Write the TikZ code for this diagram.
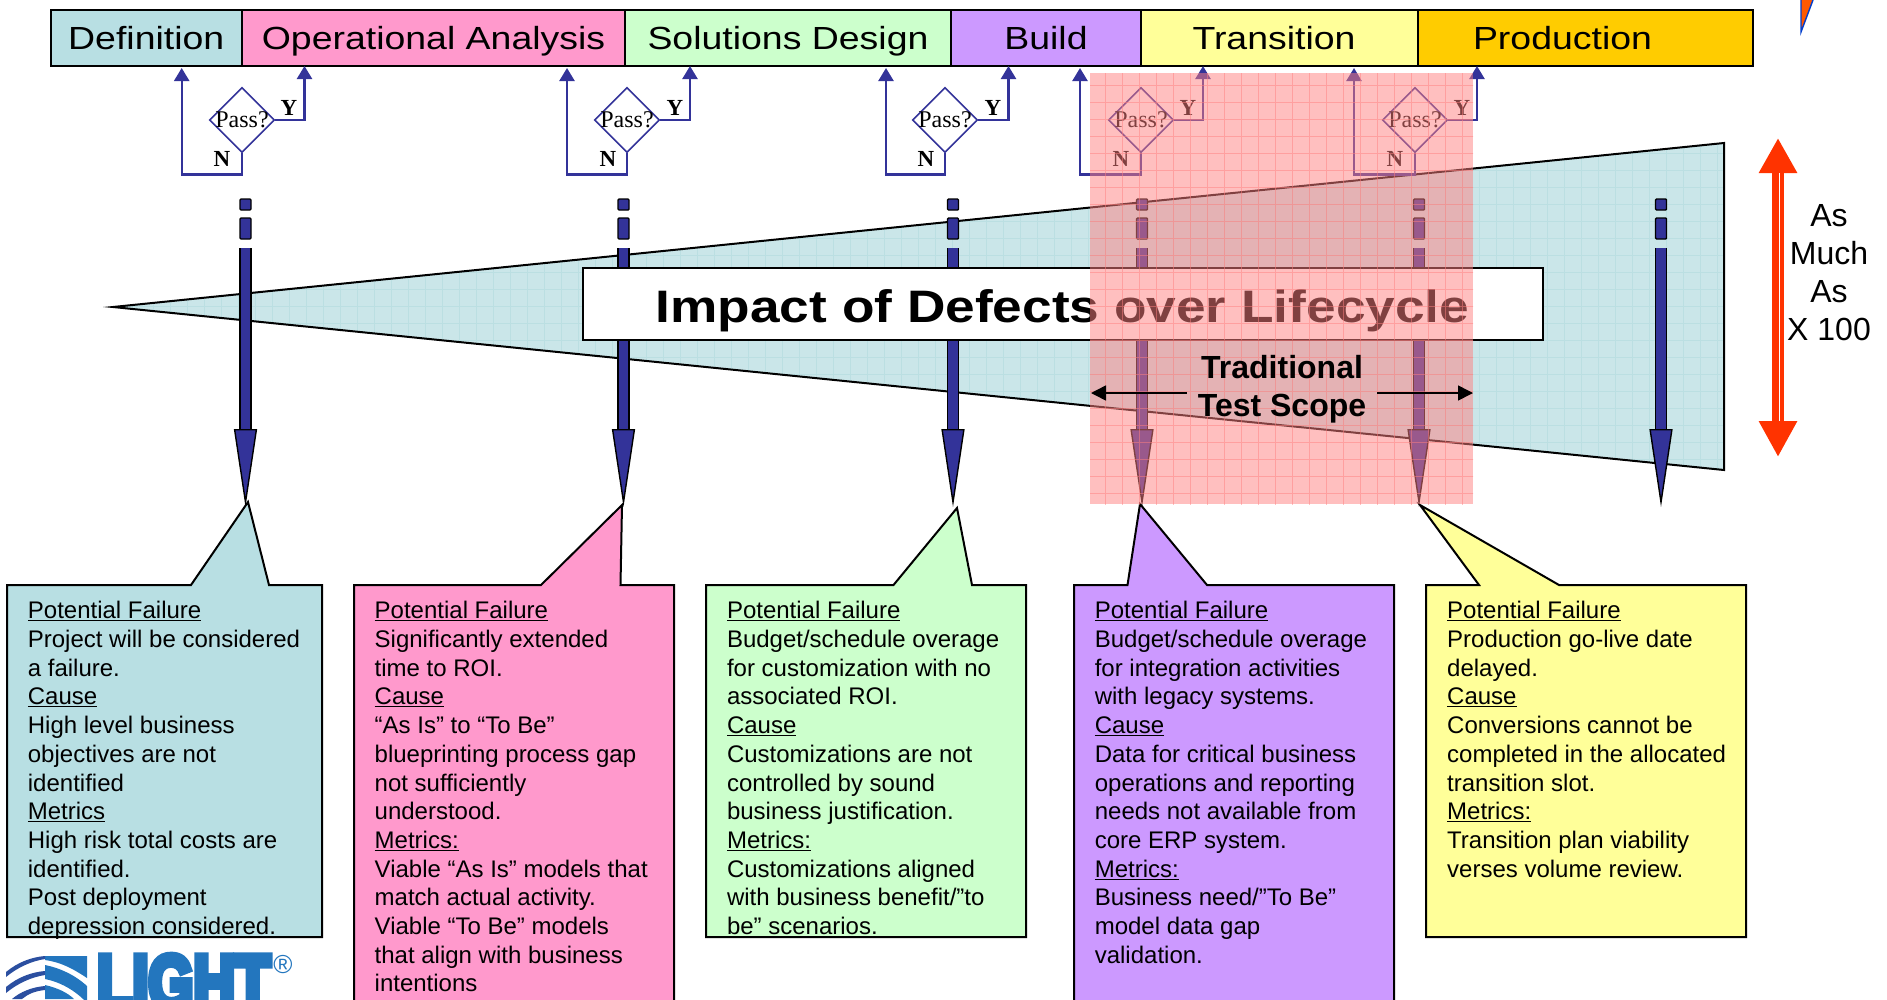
\documentclass[tikz,border=0pt]{standalone}
\usepackage{fontspec}
\usetikzlibrary{shapes.geometric,arrows.meta}
\setmainfont{Liberation Sans}
\newfontfamily\widefont[FakeStretch=1.17]{Liberation Sans}
\newfontfamily\passfont{Liberation Serif}
\newfontfamily\logofont[UprightFont=* Bold,FakeBold=10]{Liberation Sans}
\newcommand{\passlabel}{\makebox[0pt]{Pass?}}
\definecolor{tealfill}{HTML}{B8DFE3}
\definecolor{wedgefill}{HTML}{CAE6E9}
\definecolor{wedgegrid}{HTML}{BBDFE2}
\definecolor{pinkfill}{HTML}{FF99CC}
\definecolor{greenfill}{HTML}{CCFFCC}
\definecolor{purplefill}{HTML}{CC99FF}
\definecolor{yellowfill}{HTML}{FFFF99}
\definecolor{goldfill}{HTML}{FFCC00}
\definecolor{loopblue}{HTML}{333399}
\definecolor{alarmred}{HTML}{FF3300}
\definecolor{logoblue}{HTML}{2376BE}
\definecolor{logodark}{HTML}{2B4FA0}
\definecolor{scopepink}{HTML}{FF8080}
\tikzset{
  phasebox/.style={draw=black,line width=2pt,minimum height=56pt,inner sep=0pt,outer sep=0pt,anchor=west,
    text height=25pt,text depth=3pt,font=\widefont\fontsize{32}{36}\selectfont},
  passnode/.style={diamond,draw=loopblue,line width=1.6pt,fill=white,inner sep=0pt,
    minimum width=65pt,minimum height=65pt,font=\passfont\fontsize{24}{26}\selectfont},
  answer/.style={inner sep=0pt,font=\passfont\bfseries\fontsize{23}{26}\selectfont},
  loopline/.style={draw=loopblue,line width=2.4pt,-{Triangle[length=13pt,width=15pt,fill=loopblue]}},
  dashbar/.style={draw=black,line width=1.4pt,fill=loopblue,rounded corners=1pt,
    minimum width=11pt,inner sep=0pt},
  defectarrow/.style={draw=black,line width=1.4pt,double=loopblue,double distance=9.5pt,
    -{Triangle[length=78pt,width=23pt,fill=loopblue,line width=1.4pt]}},
  callout/.style={draw=black,line width=2pt,line join=miter},
  boxtext/.style={anchor=north west,inner sep=0pt,align=left,font=\fontsize{24}{28.7}\selectfont},
  sidetext/.style={inner sep=0pt,align=center,font=\fontsize{32}{38}\selectfont}
}
\begin{document}
\begin{tikzpicture}[x=1pt,y=-1pt]
\useasboundingbox (0,0) rectangle (1887,999);
\clip (0,0) rectangle (1887,999);
\node[phasebox,fill=tealfill,minimum width=191.5pt] at (50.5, 38) (definition) {Definition};
\node[phasebox,fill=pinkfill,minimum width=383pt] at (242, 38) (operational) {Operational Analysis};
\node[phasebox,fill=greenfill,minimum width=326pt] at (625, 38) (solutions) {Solutions Design};
\node[phasebox,fill=purplefill,minimum width=190pt] at (951, 38) (build) {Build};
\node[phasebox,fill=yellowfill,minimum width=277pt] at (1141, 38) (transition) {Transition\hspace*{11pt}};
\node[phasebox,fill=goldfill,minimum width=335pt] at (1418, 38) (production) {Production\hspace*{46pt}};
\coordinate (wedgetip) at (113, 307);
\coordinate (wedgetop) at (1724, 143);
\coordinate (wedgebot) at (1724, 470);
\begin{scope}
\clip (wedgetip) -- (wedgetop) -- (wedgebot) -- cycle;
\fill[wedgefill] (100,140) rectangle (1730,475);
\draw[wedgegrid,line width=.6pt,step=17pt] (100,140) grid (1730,475);
\end{scope}
\draw[black,line width=2pt] (wedgetip) -- (wedgetop) -- (wedgebot) -- cycle;
\node[passnode] at (242, 120) (passa) {\passlabel};
\node[answer] at (289, 108) (yesa) {Y};
\node[answer] at (222, 159) (noa) {N};
\coordinate (upyesa) at (304.5, 66);
\coordinate (upnoa) at (181.7, 68);
\draw[loopline] (passa.east) -| (upyesa);
\draw[loopline] (passa.south) -- ++(0,21) -| (upnoa);
\node[passnode] at (627, 120) (passb) {\passlabel};
\node[answer] at (675, 108) (yesb) {Y};
\node[answer] at (608, 159) (nob) {N};
\coordinate (upyesb) at (690, 66);
\coordinate (upnob) at (567, 68);
\draw[loopline] (passb.east) -| (upyesb);
\draw[loopline] (passb.south) -- ++(0,21) -| (upnob);
\node[passnode] at (945, 120) (passc) {\passlabel};
\node[answer] at (993, 108) (yesc) {Y};
\node[answer] at (926, 159) (noc) {N};
\coordinate (upyesc) at (1008.5, 66);
\coordinate (upnoc) at (886, 68);
\draw[loopline] (passc.east) -| (upyesc);
\draw[loopline] (passc.south) -- ++(0,21) -| (upnoc);
\node[passnode] at (1141, 120) (passd) {\passlabel};
\node[answer] at (1188, 108) (yesd) {Y};
\node[answer] at (1121, 159) (nod) {N};
\coordinate (upyesd) at (1203, 66);
\coordinate (upnod) at (1080, 68);
\draw[loopline] (passd.east) -| (upyesd);
\draw[loopline] (passd.south) -- ++(0,21) -| (upnod);
\node[passnode] at (1415, 120) (passe) {\passlabel};
\node[answer] at (1462, 108) (yese) {Y};
\node[answer] at (1395, 159) (noe) {N};
\coordinate (upyese) at (1477, 66);
\coordinate (upnoe) at (1354, 68);
\draw[loopline] (passe.east) -| (upyese);
\draw[loopline] (passe.south) -- ++(0,21) -| (upnoe);
\node[dashbar,minimum height=11pt] at (245.5, 204.5) (dasha) {};
\node[dashbar,minimum height=21pt] at (245.5, 228.5) (dashaa) {};
\coordinate (shafta) at (245.5, 248);
\coordinate (tipa) at (245.5, 507);
\draw[defectarrow] (shafta) -- (tipa);
\node[dashbar,minimum height=11pt] at (623.5, 204.5) (dashb) {};
\node[dashbar,minimum height=21pt] at (623.5, 228.5) (dashbb) {};
\coordinate (shaftb) at (623.5, 248);
\coordinate (tipb) at (623.5, 507);
\draw[defectarrow] (shaftb) -- (tipb);
\node[dashbar,minimum height=11pt] at (953, 204.5) (dashc) {};
\node[dashbar,minimum height=21pt] at (953, 228.5) (dashcc) {};
\coordinate (shaftc) at (953, 248);
\coordinate (tipc) at (953, 507);
\draw[defectarrow] (shaftc) -- (tipc);
\node[dashbar,minimum height=11pt] at (1142, 204.5) (dashd) {};
\node[dashbar,minimum height=21pt] at (1142, 228.5) (dashdd) {};
\coordinate (shaftd) at (1142, 248);
\coordinate (tipd) at (1142, 507);
\draw[defectarrow] (shaftd) -- (tipd);
\node[dashbar,minimum height=11pt] at (1419, 204.5) (dashe) {};
\node[dashbar,minimum height=21pt] at (1419, 228.5) (dashee) {};
\coordinate (shafte) at (1419, 248);
\coordinate (tipe) at (1419, 507);
\draw[defectarrow] (shafte) -- (tipe);
\node[dashbar,minimum height=11pt] at (1661, 204.5) (dashf) {};
\node[dashbar,minimum height=21pt] at (1661, 228.5) (dashff) {};
\coordinate (shaftf) at (1661, 248);
\coordinate (tipf) at (1661, 507);
\draw[defectarrow] (shaftf) -- (tipf);
\node[draw=black,line width=2pt,fill=white,minimum width=960pt,minimum height=72pt,inner sep=0pt,
  text height=36pt,text depth=0pt,font=\widefont\bfseries\fontsize{45.5}{50}\selectfont] at (1062.5, 304) (impact) {Impact of Defects over Lifecycle};
\draw[callout,fill=tealfill] (7,585) -- (191,585) -- (248,502) -- (269,585) -- (322,585) -- (322,937) -- (7,937) -- cycle;
\draw[callout,fill=pinkfill] (354,585) -- (541,585) -- (622,505) -- (620.5,585) -- (674,585) -- (674,1010) -- (354,1010) -- cycle;
\draw[callout,fill=greenfill] (706,585) -- (893.5,585) -- (957,508) -- (972,585) -- (1026,585) -- (1026,937) -- (706,937) -- cycle;
\draw[callout,fill=purplefill] (1074,585) -- (1127.5,585) -- (1140,504) -- (1207,585) -- (1394,585) -- (1394,1010) -- (1074,1010) -- cycle;
\draw[callout,fill=yellowfill] (1426,585) -- (1479,585) -- (1420,505) -- (1559,585) -- (1746,585) -- (1746,937) -- (1426,937) -- cycle;
\fill[scopepink,opacity=.5] (1090,73) rectangle (1473,504);
\begin{scope}
\clip (1090,73) rectangle (1473,504);
\draw[scopepink,opacity=.5,line width=.7pt,step=17pt] (1080,60) grid (1480,510);
\end{scope}
\node[sidetext,font=\bfseries\fontsize{32}{38}\selectfont,inner xsep=11pt] at (1282, 389.5) (testscope) {Traditional\\Test Scope};
\coordinate (scopeleft) at (1091, 393);
\coordinate (scoperight) at (1473, 393);
\draw[black,line width=1.6pt,-{Triangle[length=15pt,width=15pt]}] ([yshift=-3.5pt]testscope.west) -- (scopeleft);
\draw[black,line width=1.6pt,-{Triangle[length=15pt,width=15pt]}] ([yshift=-3.5pt]testscope.east) -- (scoperight);
\coordinate (redtop) at (1778, 138);
\coordinate (redbot) at (1778, 457);
\coordinate (whitetop) at (1779.7, 173);
\coordinate (whitebot) at (1779.7, 421);
\draw[alarmred,line width=12pt,{Triangle[length=35pt,width=36pt]}-{Triangle[length=36pt,width=36pt]}] (redtop) -- (redbot);
\draw[white,line width=1.5pt] (whitetop) -- (whitebot);
\node[sidetext] at (1829, 272.5) (muchas) {As\\Much\\As\hspace*{10pt}\\X 100};
\node[boxtext] at (27.7, 601.2) (texta) {\underline{Potential Failure}\\Project will be considered\\a failure.\\\underline{Cause}\\High level business\\objectives are not\\identified\\\underline{Metrics}\\High risk total costs are\\identified.\\Post deployment\\depression considered.};
\node[boxtext] at (374.5, 601.2) (textb) {\underline{Potential Failure}\\Significantly extended\\time to ROI.\\\underline{Cause}\\“As Is” to “To Be”\\blueprinting process gap\\not sufficiently\\understood.\\\underline{Metrics:}\\Viable “As Is” models that\\match actual activity.\\Viable “To Be” models\\that align with business\\intentions};
\node[boxtext] at (726.8, 601.2) (textc) {\underline{Potential Failure}\\Budget/schedule overage\\for customization with no\\associated ROI.\\\underline{Cause}\\Customizations are not\\controlled by sound\\business justification.\\\underline{Metrics:}\\Customizations aligned\\with business benefit/”to\\be” scenarios.};
\node[boxtext] at (1094.6, 601.2) (textd) {\underline{Potential Failure}\\Budget/schedule overage\\for integration activities\\with legacy systems.\\\underline{Cause}\\Data for critical business\\operations and reporting\\needs not available from\\core ERP system.\\\underline{Metrics:}\\Business need/”To Be”\\model data gap\\validation.};
\node[boxtext] at (1447, 601.2) (texte) {\underline{Potential Failure}\\Production go-live date\\delayed.\\\underline{Cause}\\Conversions cannot be\\completed in the allocated\\transition slot.\\\underline{Metrics:}\\Transition plan viability\\verses volume review.};
\fill[logoblue] (45,956) -- (87,956) -- (87,978) .. controls (72,968) and (60,962) .. (45,960) -- cycle;
\fill[logoblue] (45,965) .. controls (60,968) and (75,975) .. (87,986) -- (87,1003) .. controls (75,990) and (60,982) .. (45,979) -- cycle;
\fill[logoblue] (45,985) .. controls (58,988) and (68,993) .. (74,999) -- (45,999) -- cycle;
\fill[logodark] (6,972) .. controls (18,962) and (32,957) .. (45,956) -- (45,959) .. controls (32,961) and (18,967) .. (6,977) -- cycle;
\fill[logodark] (6,987) .. controls (18,977) and (32,972) .. (45,971) -- (45,975) .. controls (32,977) and (18,983) .. (6,993) -- cycle;
\fill[logodark] (12,999) .. controls (20,992) and (32,987) .. (45,986) -- (45,990) .. controls (35,991) and (28,994) .. (22,999) -- cycle;
\node[anchor=base west,inner sep=0pt,text=logoblue,xscale=.76,transform shape,font=\logofont\fontsize{76}{80}\selectfont] at (97, 1008.5) (logotext) {LIGHT};
\node[inner sep=0pt,text=logoblue,font=\fontsize{26}{28}\selectfont] at (283, 965) (logomark) {®};
\fill[orange!70!red] (1801,0) -- (1813,0) -- (1801,32) -- cycle;
\draw[blue!70!cyan!80!black,line width=1.4pt] (1801,0) -- (1801,32) -- (1813,0);
\end{tikzpicture}
\end{document}
